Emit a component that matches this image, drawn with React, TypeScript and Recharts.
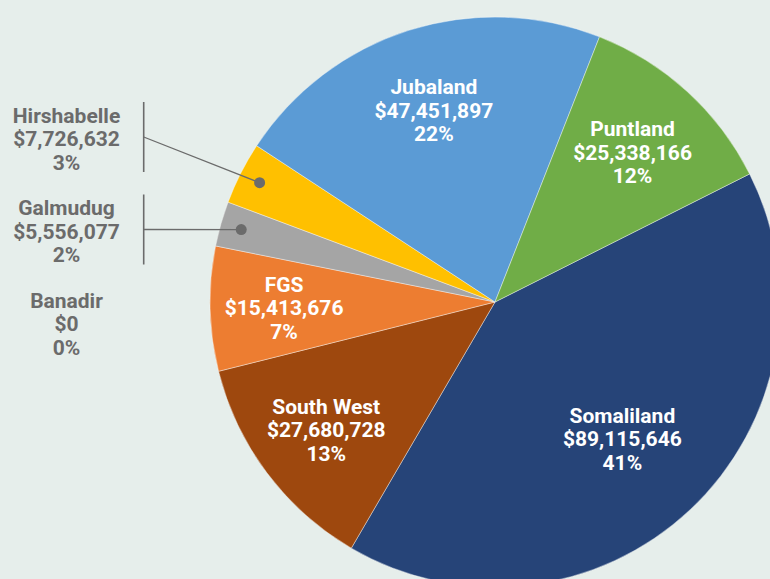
import { PieChart, Pie, Cell } from "recharts"

const regions = ["Somaliland", "South West", "FGS", "Banadir", "Galmudug", "Hirshabelle", "Jubaland", "Puntland"]
const amounts = [89115646, 27680728, 15413676, 0, 5556077, 7726632, 47451897, 25338166]
const shares = ["41%", "13%", "7%", "0%", "2%", "3%", "22%", "12%"]
const colors = ["#264478", "#9E480E", "#ED7D31", "#4472C4", "#A5A5A5", "#FFC000", "#5B9BD5", "#70AD47"]

const data = regions.map((name, i) => ({ name, value: amounts[i], share: shares[i] }))

const RAD = Math.PI / 180
const FONT = "Roboto, 'Noto Sans', sans-serif"
const FS = 21
const LINE_H = 23.5
const GRAY = "#6b6b6b"

// label layout (not data)
const labelRadius: Record<string, number> = { Somaliland: 186, "South West": 211, FGS: 211, Jubaland: 202, Puntland: 204 }
const sideLabelY: Record<string, number> = { Hirshabelle: 138, Galmudug: 230.5, Banadir: 323 }

const money = (v: number) => "$" + v.toLocaleString("en-US")

function textBlock(lines: string[], x: number, midY: number, fill: string) {
  // midY = vertical centre of the middle line's capitals
  const base = midY + FS * 0.355 + 1
  return lines.map((t, k) => (
    <text key={k} x={x} y={base + (k - 1) * LINE_H} textAnchor="middle"
      fill={fill} fontSize={FS} fontWeight={700} fontFamily={FONT}>{t}</text>
  ))
}

function renderLabel(props: any) {
  const { cx, cy, midAngle, outerRadius, index } = props
  const d = data[index]
  const lines = [d.name, money(d.value), d.share]
  const sideY = sideLabelY[d.name]

  if (sideY !== undefined) {
    const colX = 143.7
    const r = outerRadius * 0.926
    const px = cx + r * Math.cos(-midAngle * RAD)
    const py = cy + r * Math.sin(-midAngle * RAD)
    return (
      <g key={`lbl-${index}`}>
        {d.value > 0 && (
          <>
            <line x1={colX} y1={sideY - 36} x2={colX} y2={sideY + 34} stroke={GRAY} strokeWidth={1.6} />
            <line x1={colX} y1={sideY - 1} x2={px} y2={py} stroke={GRAY} strokeWidth={1.3} />
            <circle cx={px} cy={py} r={5.5} fill={GRAY} />
          </>
        )}
        {textBlock(lines, 66.5, sideY, GRAY)}
      </g>
    )
  }

  const r = labelRadius[d.name] ?? 205
  const x = cx + r * Math.cos(-midAngle * RAD)
  const y = cy + r * Math.sin(-midAngle * RAD)
  return <g key={`lbl-${index}`}>{textBlock(lines, x, y, "#ffffff")}</g>
}

export default function App() {
  return (
    <div style={{ position: "absolute", left: 0, top: 0, width: 770, height: 579, background: "#E6EEEB", overflow: "hidden" }}>
      <PieChart width={770} height={579} margin={{ top: 0, right: 0, bottom: 0, left: 0 }}>
        <Pie
          data={data}
          dataKey="value"
          nameKey="name"
          cx={495}
          cy={302}
          outerRadius={285}
          startAngle={26.7}
          endAngle={-333.3}
          stroke="#ffffff"
          strokeWidth={0.4}
          label={renderLabel}
          labelLine={false}
          isAnimationActive={false}
        >
          {data.map((d, i) => (
            <Cell key={d.name} fill={colors[i]} />
          ))}
        </Pie>
      </PieChart>
    </div>
  )
}
